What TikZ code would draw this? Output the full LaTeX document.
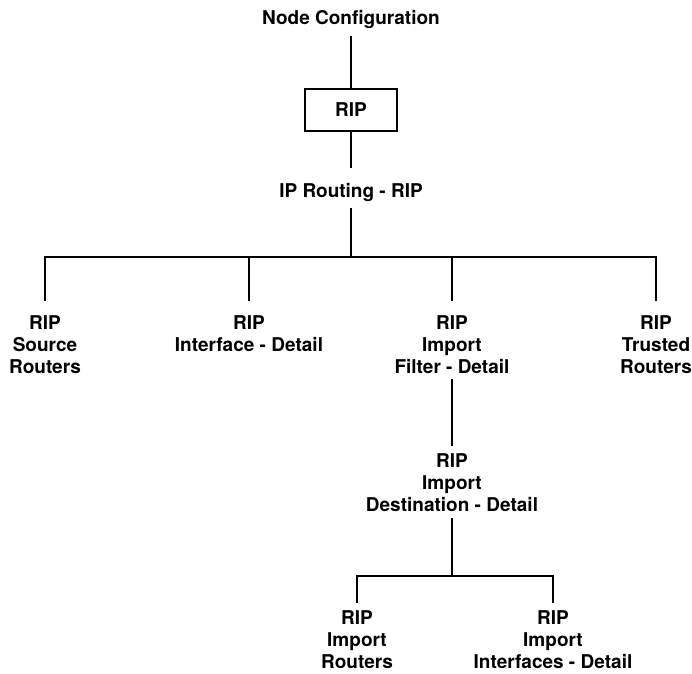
\documentclass[tikz,border=0pt]{standalone}
\usepackage{fontspec}
\setmainfont{TeX Gyre Heros}
\begin{document}
\begin{tikzpicture}[x=1pt,y=-1pt,
  lbl/.style={inner sep=0pt, align=center, anchor=north,
    font=\fontsize{19}{22}\selectfont\bfseries},
  menubox/.style={draw, line width=1.2pt, inner sep=0pt,
    minimum width=92pt, minimum height=42pt,
    font=\fontsize{19}{22}\selectfont\bfseries},
  wire/.style={line width=1.2pt}]
\useasboundingbox[fill=white] (0,0) rectangle (692,673);

% menu hierarchy
\node[lbl] (nc) at (351,10) {Node Configuration};
\node[menubox] (rip) at (351,110) {RIP};
\node[lbl] (iprip) at (351,183) {IP Routing - RIP};

\node[lbl] (src) at (45,315) {RIP\\Source\\Routers};
\node[lbl] (ifc) at (249,315) {RIP\\Interface - Detail};
\node[lbl] (flt) at (452,315) {RIP\\Import\\Filter - Detail};
\node[lbl] (trs) at (656,315) {RIP\\Trusted\\Routers};

\node[lbl] (dst) at (452,453) {RIP\\Import\\Destination - Detail};

\node[lbl] (irt) at (357,610) {RIP\\Import\\Routers};
\node[lbl] (iif) at (553,610) {RIP\\Import\\Interfaces - Detail};

% junction points of the branch bars
\coordinate (j1) at (351,257);
\coordinate (j2) at (452,576);

% connectors
\draw[wire, shorten <=7pt] (nc.south) -- (rip.north);
\draw[wire, shorten >=15pt] (rip.south) -- (iprip.north);
\draw[wire, shorten <=6pt] (iprip.south) -- (j1);
\draw[wire, shorten <=14pt, shorten >=14pt]
  (src.north) -- (src.north |- j1) -- (trs.north |- j1) -- (trs.north);
\draw[wire, shorten >=14pt] (ifc.north |- j1) -- (ifc.north);
\draw[wire, shorten >=14pt] (flt.north |- j1) -- (flt.north);
\draw[wire, shorten <=6pt, shorten >=7pt] (flt.south) -- (dst.north);
\draw[wire, shorten <=7pt] (dst.south) -- (j2);
\draw[wire, shorten <=7pt, shorten >=7pt]
  (irt.north) -- (irt.north |- j2) -- (iif.north |- j2) -- (iif.north);
\end{tikzpicture}
\end{document}
